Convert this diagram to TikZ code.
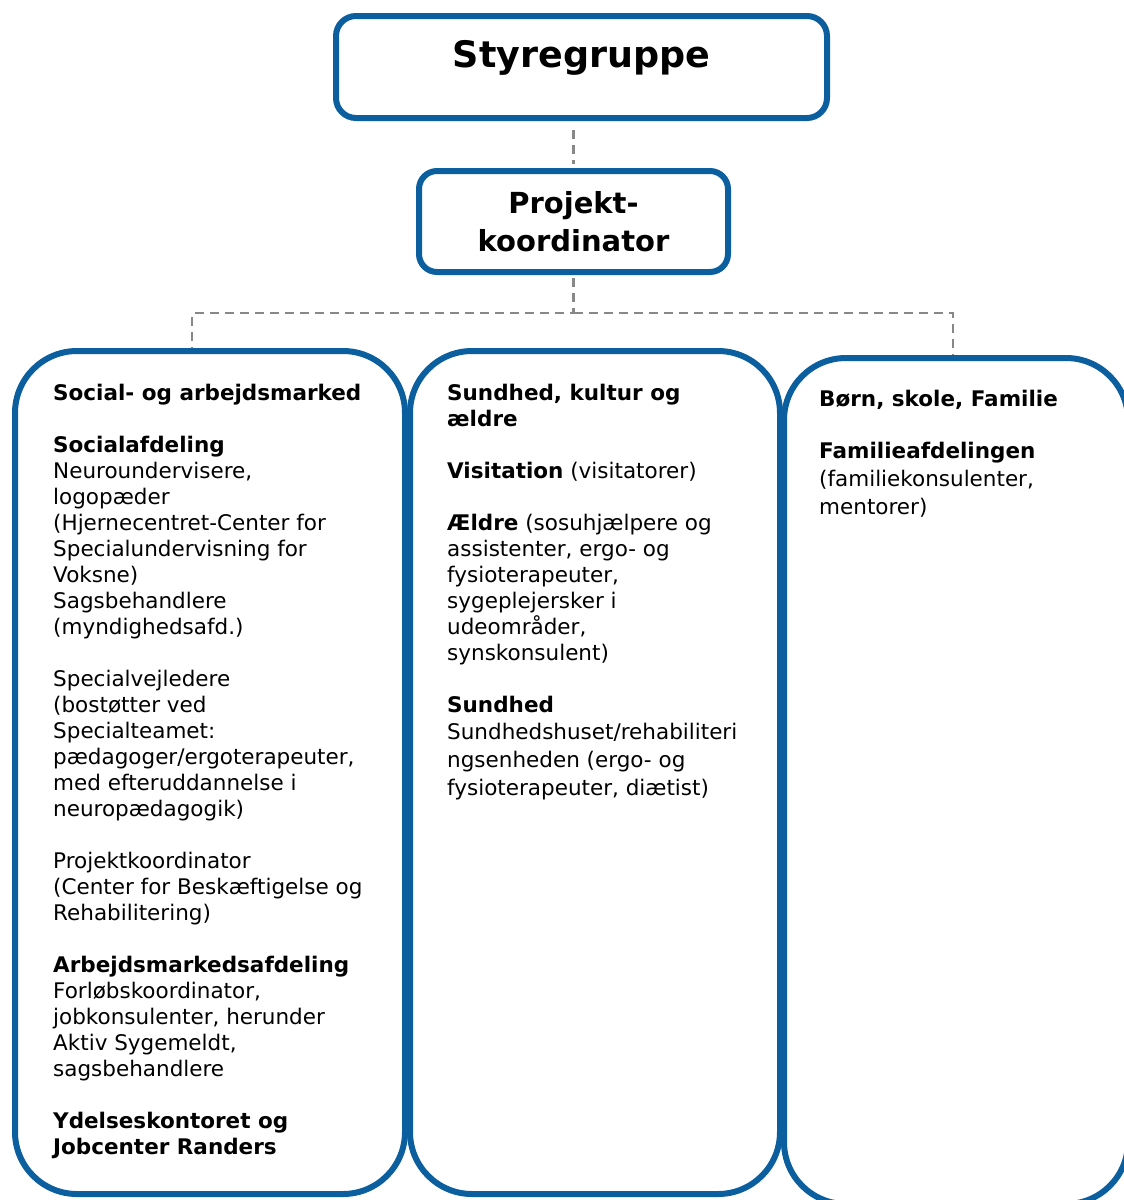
\documentclass[tikz,border=0pt]{standalone}
\usepackage{fontspec}
\setmainfont{DejaVu Sans}
\usetikzlibrary{positioning}
\definecolor{orgblue}{RGB}{12,95,158}
\definecolor{linkgray}{RGB}{136,136,136}

\begin{document}
\begin{tikzpicture}[
  x=1pt, y=-1pt,
  box/.style={rectangle, draw=orgblue, line width=6pt, inner sep=0pt, fill=white},
  head/.style={box, rounded corners=20pt, font=\bfseries\fontsize{36.5}{40}\selectfont},
  coord/.style={box, rounded corners=18pt, align=center,
                font=\bfseries\fontsize{29}{38}\selectfont},
  unit/.style={box, rounded corners=62pt},
  txt/.style={inner sep=0pt, align=left, font=\fontsize{21.5}{26}\selectfont},
  link/.style={draw=linkgray, line width=2.8pt, dash pattern=on 9pt off 6pt}
]
\useasboundingbox (0,0) rectangle (1124,1200);
\clip (0,0) rectangle (1124,1200);

% ---- Top levels ----
\node[head, minimum width=491pt, minimum height=102pt, text depth=26pt]
  (styr) at (581.5,67) {Styregruppe};
\node[coord, minimum width=309pt, minimum height=101pt]
  (proj) at (573.5,221.5) {Projekt-\\koordinator};

% ---- Dashed links ----
\draw[link, shorten <=9pt, shorten >=4pt] (proj.north |- styr.south) -- (proj.north);
\draw[link, shorten <=3pt] (proj.south) -- ++(0,38) -| (192,351);
\draw[link] (proj.south) ++(0,38) -| (953,358);

% ---- Units ----
\node[unit, minimum width=390pt, minimum height=843pt] (social) at (210,772.5) {};
\node[unit, minimum width=370pt, minimum height=843pt] (health) at (595,772.5) {};
\node[unit, minimum width=344pt, minimum height=846pt] (family) at (956,781) {};

% Social- og arbejdsmarked
\node[txt, below right=35.5pt and 41pt of social.north west] (socialtxt) {%
  \textbf{Social- og arbejdsmarked}\\[26pt]
  \textbf{Socialafdeling}\\
  Neuroundervisere,\\
  logopæder\\
  (Hjernecentret-Center for\\
  Specialundervisning for\\
  Voksne)\\
  Sagsbehandlere\\
  (myndighedsafd.)\\[26pt]
  Specialvejledere\\
  (bostøtter ved\\
  Specialteamet:\\
  pædagoger/ergoterapeuter,\\
  med efteruddannelse i\\
  neuropædagogik)\\[26pt]
  Projektkoordinator\\
  (Center for Beskæftigelse og\\
  Rehabilitering)\\[26pt]
  \textbf{Arbejdsmarkedsafdeling}\\
  Forløbskoordinator,\\
  jobkonsulenter, herunder\\
  Aktiv Sygemeldt,\\
  sagsbehandlere\\[26pt]
  \textbf{Ydelseskontoret og}\\
  \textbf{Jobcenter Randers}};

% Sundhed, kultur og aeldre
\node[txt, below right=35.5pt and 40pt of health.north west] (healthtxt) {%
  \textbf{Sundhed, kultur og}\\
  \textbf{ældre}\\[26pt]
  \textbf{Visitation} (visitatorer)\\[26pt]
  \textbf{Ældre} (sosuhjælpere og\\
  assistenter, ergo- og\\
  fysioterapeuter,\\
  sygeplejersker i\\
  udeområder,\\
  synskonsulent)\\[26pt]
  \textbf{Sundhed}\\[1pt]
  Sundhedshuset/rehabiliteri\\[2pt]
  ngsenheden (ergo- og\\[2pt]
  fysioterapeuter, diætist)};

% Boern, skole, Familie
\node[txt, below right=34.5pt and 38pt of family.north west] (familytxt) {%
  \textbf{Børn, skole, Familie}\\[26pt]
  \textbf{Familieafdelingen}\\[2pt]
  (familiekonsulenter,\\[2pt]
  mentorer)};

\end{tikzpicture}
\end{document}
